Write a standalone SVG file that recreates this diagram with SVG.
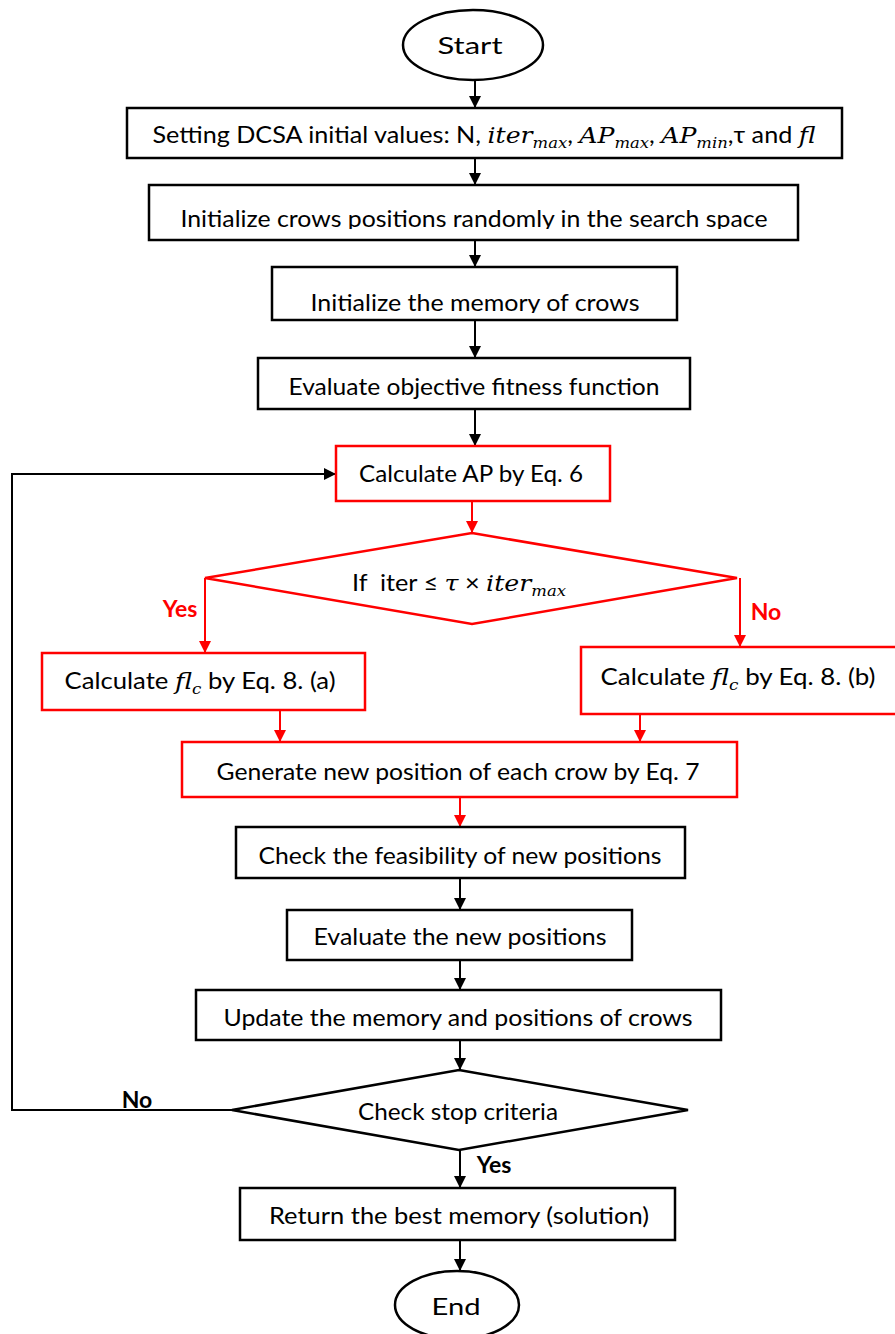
<svg xmlns="http://www.w3.org/2000/svg" width="895" height="1334" viewBox="0 0 895 1334">
  <defs>
    <style>
      .box { fill: #fff; stroke: #000; stroke-width: 2.5; }
      .rbox { fill: #fff; stroke: #ff0000; stroke-width: 2.5; }
      .t { font-family: Lato, "Open Sans", sans-serif; font-size: 23px; fill: #000; text-anchor: middle; }
      .m { font-family: "DejaVu Serif", "Liberation Serif", serif; font-style: italic; }
      .sub { font-size: 15px; }
      .lbl { font-family: Lato, "Open Sans", sans-serif; font-size: 23px; font-weight: bold; text-anchor: middle; }
      .edge { fill: none; stroke: #000; stroke-width: 2; }
      .redge { fill: none; stroke: #ff0000; stroke-width: 2; }
    </style>
    <marker id="ah" viewBox="0 0 10 10" refX="10" refY="5" markerWidth="12" markerHeight="12" markerUnits="userSpaceOnUse" orient="auto">
      <path d="M0,0 L10,5 L0,10 z" fill="#000"/>
    </marker>
    <marker id="rah" viewBox="0 0 10 10" refX="10" refY="5" markerWidth="12" markerHeight="12" markerUnits="userSpaceOnUse" orient="auto">
      <path d="M0,0 L10,5 L0,10 z" fill="#ff0000"/>
    </marker>
    <clipPath id="clip-init"><rect x="150" y="186" width="648" height="43"/></clipPath>
    <clipPath id="clip-mem"><rect x="273" y="268" width="404" height="45"/></clipPath>
  </defs>

  <!-- connectors -->
  <g id="connectors">
    <line class="edge" x1="475" y1="80" x2="475" y2="108" marker-end="url(#ah)"/>
    <line class="edge" x1="475" y1="158" x2="475" y2="185" marker-end="url(#ah)"/>
    <line class="edge" x1="475" y1="240" x2="475" y2="267" marker-end="url(#ah)"/>
    <line class="edge" x1="475" y1="320" x2="475" y2="358" marker-end="url(#ah)"/>
    <line class="edge" x1="475" y1="409" x2="475" y2="446" marker-end="url(#ah)"/>
    <line class="redge" x1="472" y1="501" x2="472" y2="533" marker-end="url(#rah)"/>
    <polyline class="redge" points="205,578 205,653" marker-end="url(#rah)"/>
    <polyline class="redge" points="740,578 740,647" marker-end="url(#rah)"/>
    <line class="redge" x1="280" y1="710" x2="280" y2="742" marker-end="url(#rah)"/>
    <line class="redge" x1="640" y1="714" x2="640" y2="742" marker-end="url(#rah)"/>
    <line class="redge" x1="460" y1="797" x2="460" y2="827" marker-end="url(#rah)"/>
    <line class="edge" x1="460" y1="878" x2="460" y2="910" marker-end="url(#ah)"/>
    <line class="edge" x1="460" y1="960" x2="460" y2="990" marker-end="url(#ah)"/>
    <line class="edge" x1="460" y1="1040" x2="460" y2="1070" marker-end="url(#ah)"/>
    <line class="edge" x1="460" y1="1150" x2="460" y2="1188" marker-end="url(#ah)"/>
    <line class="edge" x1="460" y1="1240" x2="460" y2="1271" marker-end="url(#ah)"/>
    <polyline class="edge" points="232,1110 12,1110 12,474 336,474" marker-end="url(#ah)"/>
    <text class="lbl" x="180" y="617" fill="#ff0000">Yes</text>
    <text class="lbl" x="766" y="620" fill="#ff0000">No</text>
    <text class="lbl" x="137" y="1108" fill="#000">No</text>
    <text class="lbl" x="494" y="1173" fill="#000">Yes</text>
  </g>

  <g id="start">
    <ellipse class="box" cx="473" cy="45" rx="70" ry="35"/>
    <text class="t" x="470" y="54" textLength="65" lengthAdjust="spacingAndGlyphs">Start</text>
  </g>

  <g id="setting">
    <rect class="box" x="127" y="108" width="715" height="50"/>
    <text class="t" x="484" y="143" textLength="663" lengthAdjust="spacingAndGlyphs">Setting DCSA initial values: N, <tspan class="m">iter</tspan><tspan class="m sub" dy="5">max</tspan><tspan dy="-5">, </tspan><tspan class="m">AP</tspan><tspan class="m sub" dy="5">max</tspan><tspan dy="-5">, </tspan><tspan class="m">AP</tspan><tspan class="m sub" dy="5">min</tspan><tspan dy="-5">,τ and </tspan><tspan class="m">fl</tspan></text>
  </g>

  <g id="init-positions">
    <rect class="box" x="149" y="185" width="649" height="55"/>
    <text class="t" x="474" y="227" textLength="587" lengthAdjust="spacingAndGlyphs" clip-path="url(#clip-init)">Initialize crows positions randomly in the search space</text>
  </g>

  <g id="init-memory">
    <rect class="box" x="272" y="267" width="405" height="53"/>
    <text class="t" x="475" y="311" textLength="329" lengthAdjust="spacingAndGlyphs" clip-path="url(#clip-mem)">Initialize the memory of crows</text>
  </g>

  <g id="evaluate-fitness">
    <rect class="box" x="258" y="358" width="432" height="51"/>
    <text class="t" x="474" y="395" textLength="371" lengthAdjust="spacingAndGlyphs">Evaluate objective fitness function</text>
  </g>

  <g id="calc-ap">
    <rect class="rbox" x="336" y="446" width="274" height="55"/>
    <text class="t" x="471" y="482" textLength="224" lengthAdjust="spacingAndGlyphs">Calculate AP by Eq. 6</text>
  </g>

  <g id="check-iter">
    <polygon class="rbox" points="472,533 737,578 472,624 205,578"/>
    <text class="t" x="459" y="591" textLength="214" lengthAdjust="spacingAndGlyphs" xml:space="preserve">If  iter ≤ <tspan class="m">τ</tspan> × <tspan class="m">iter</tspan><tspan class="m sub" dy="5">max</tspan></text>
  </g>

  <g id="calc-fl-a">
    <rect class="rbox" x="42" y="653" width="323" height="57"/>
    <text class="t" x="200" y="689" textLength="271" lengthAdjust="spacingAndGlyphs">Calculate <tspan class="m">fl</tspan><tspan class="m sub" dy="5">c</tspan><tspan dy="-5"> by Eq. 8. (a)</tspan></text>
  </g>

  <g id="calc-fl-b">
    <rect class="rbox" x="581" y="647" width="320" height="67"/>
    <text class="t" x="738" y="685" textLength="275" lengthAdjust="spacingAndGlyphs">Calculate <tspan class="m">fl</tspan><tspan class="m sub" dy="5">c</tspan><tspan dy="-5"> by Eq. 8. (b)</tspan></text>
  </g>

  <g id="generate">
    <rect class="rbox" x="182" y="742" width="555" height="55"/>
    <text class="t" x="458" y="780" textLength="483" lengthAdjust="spacingAndGlyphs">Generate new position of each crow by Eq. 7</text>
  </g>

  <g id="feasibility">
    <rect class="box" x="236" y="827" width="449" height="51"/>
    <text class="t" x="460" y="864" textLength="403" lengthAdjust="spacingAndGlyphs">Check the feasibility of new positions</text>
  </g>

  <g id="evaluate-new">
    <rect class="box" x="287" y="910" width="345" height="50"/>
    <text class="t" x="460" y="945" textLength="293" lengthAdjust="spacingAndGlyphs">Evaluate the new positions</text>
  </g>

  <g id="update">
    <rect class="box" x="196" y="990" width="525" height="50"/>
    <text class="t" x="458" y="1026" textLength="469" lengthAdjust="spacingAndGlyphs">Update the memory and positions of crows</text>
  </g>

  <g id="stop">
    <polygon class="box" points="459,1070 688,1110 459,1150 232,1110"/>
    <text class="t" x="458" y="1120" textLength="200" lengthAdjust="spacingAndGlyphs">Check stop criteria</text>
  </g>

  <g id="return">
    <rect class="box" x="240" y="1188" width="435" height="52"/>
    <text class="t" x="459" y="1224" textLength="380" lengthAdjust="spacingAndGlyphs">Return the best memory (solution)</text>
  </g>

  <g id="end">
    <ellipse class="box" cx="457" cy="1305" rx="62" ry="34"/>
    <text class="t" x="456" y="1315" textLength="49" lengthAdjust="spacingAndGlyphs">End</text>
  </g>
</svg>
